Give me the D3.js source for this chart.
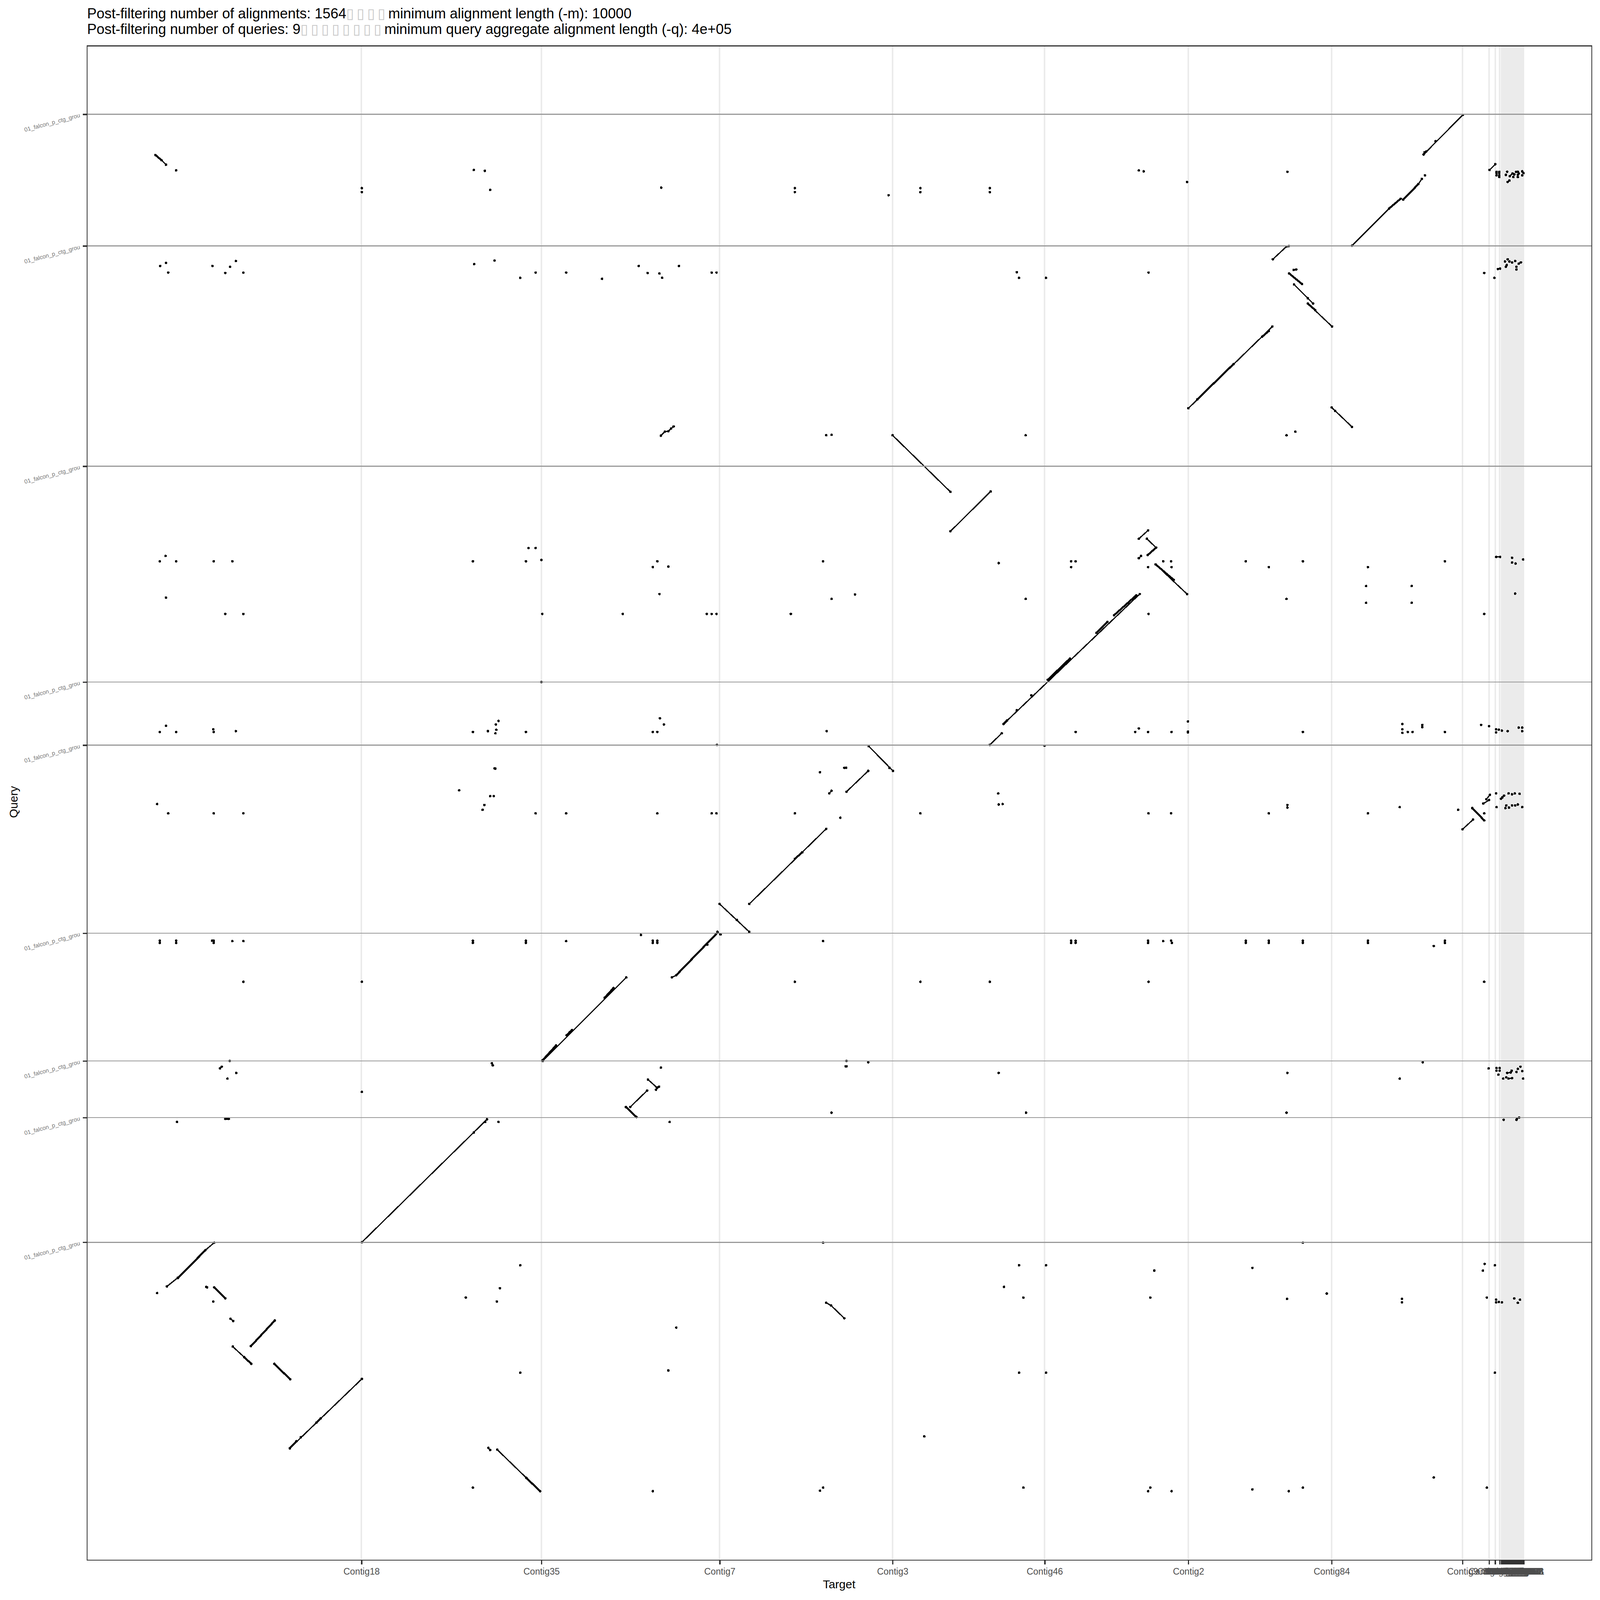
<!DOCTYPE html>
<html>
<head>
<meta charset="utf-8">
<script src="https://cdn.jsdelivr.net/npm/d3@7"></script>
<style>
html,body{margin:0;padding:0;background:#fff;width:100%;height:100%;overflow:hidden;}
svg{display:block;width:100vw;height:100vh;}
text{font-family:"Liberation Sans",Arial,sans-serif;}
</style>
</head>
<body>
<svg id="chart" viewBox="0 0 4500 4500" preserveAspectRatio="xMidYMid meet"></svg>
<script>
const targetMax = 3094;
const queryMax = 3113.5;

const titleLines = [
  ["Post-filtering number of alignments: 1564", 4, "minimum alignment length (-m): 10000"],
  ["Post-filtering number of queries: 9", 8, "minimum query aggregate alignment length (-q): 4e+05"]
];
const xTitle = "Target";
const yTitle = "Query";

const targetTickNames = ["Contig18","Contig35","Contig7","Contig3","Contig46","Contig2","Contig84","Contig9",
  "Contig160","Contig66","Contig93","Contig55","Contig72","Contig88","Contig103","Contig117",
  "Contig121","Contig125","Contig129","Contig132","Contig135","Contig138","Contig141","Contig144",
  "Contig147","Contig150","Contig153","Contig156","Contig159","Contig162","Contig165","Contig168","Contig171"];
const targetTickValues = [466,873,1276,1667,2011,2336,2660,2956,
  3016,3030,3040,3044,3047,3050,3053,3056,
  3058.5,3061,3063.5,3066,3068.5,3071,3073.5,3076,
  3078.5,3081,3083.5,3086,3088,3090,3091.5,3093,3094];

const queryTickValues = [3114,2816,2318,1830,1687,1262,973,845,563];
const queryTickLabel = "01_falcon_p_ctg_grou";

// [targetStart, queryStart, targetEnd, queryEnd]
const alignments = [
  [14,3010,24,3000],
  [1143,2387,1152,2396],[1152,2396,1160,2397],[1160,2397,1166,2403],[1166,2403,1172,2408],
  [1524,1578,1529,1584],
  [1343,1328,1517,1498],[1276,1328,1343,1265],
  [1168,1162,1178,1167],[1271,1265,1278,1259],
  [876,973,1065,1162],[467,563,750,841],
  [1074,869,1112,906],[1114,931,1134,913],[1132,908,1139,915],
  [146,956,150,960],
  [26,463,51,483],[113,545,133,562],[170,390,176,385],
  [175,327,201,303],
  [467,254,304,97],[753,98,757,93],[773,94,870,0],
  [1517,426,1528,420],[1528,420,1558,391],
  [2706,2817,2790,2901],[2856,2956,2864,2968],[2868,3023,2957,3113],
  [3017,2988,3030,3001],[3058,2961,3062,2964],[3063,2974,3069,2980],[3069,2980,3073,2978],
  [2527,2786,2558,2815],[2558,2815,2563,2816],[2574,2762,2580,2763],
  [2575,2729,2618,2686],[2606,2686,2661,2634],
  [2336,2449,2526,2634],[2660,2451,2706,2407],
  [1667,2388,1798,2260],[1798,2171,1889,2261],
  [2224,2154,2245,2173],[2242,2154,2263,2134],[2224,2110,2229,2115],
  [2262,2096,2333,2029],
  [1887,1688,1914,1714],[1918,1735,2226,2029],
  [1613,1685,1668,1629],[1563,1582,1612,1629],
  [2956,1497,2980,1519],[3003,1555,3016,1563],[3010,1565,3018,1575],[3043,1566,3050,1573],
  [3036,2764,3041,2765],[3032,2113,3041,2113],
  [3057,946,3065,947],[3060,933,3068,934]
];

// Runs where many short alignments overlap
const denseAlignments = [
  [0,3022,14,3010],
  [1178,1167,1271,1263],
  [876,975,906,1008],[1016,1116,1036,1138],[930,1031,942,1043],
  [1064,869,1088,846],[761,968,763,963],[158,842,166,842],
  [51,482,113,545],[133,461,158,436],[216,328,270,386],[201,303,217,288],[269,288,305,253],
  [304,97,319,113],[364,155,374,165],[839,30,870,0],
  [2790,2901,2816,2923],[2822,2921,2856,2956],[2868,3023,2874,3030],
  [2564,2754,2593,2730],[2606,2686,2623,2671],
  [2356,2469,2438,2549],[2503,2611,2518,2624],
  [2263,2134,2244,2117],[2978,1545,3005,1517],[2262,2096,2303,2061],
  [2018,1835,2068,1883],[2128,1941,2153,1966],[2168,1981,2218,2026],[1918,1735,1926,1743],
  [1446,1430,1463,1445]
];

// [target, query]
const shortHits = [
  [47,2987],[720,2988],[745,2986],[757,2943],[467,2947],[467,2938],[1144,2948],[1446,2947],[1446,2938],
  [11,2771],[24,2778],[29,2756],[129,2771],[158,2755],[169,2769],[182,2782],[199,2756],[721,2775],[767,2783],
  [825,2744],[860,2756],[929,2756],[1010,2742],[1093,2771],[1113,2755],[1140,2754],[1146,2744],[1184,2771],
  [1258,2756],[1269,2756],[1517,2388],[1529,2389],
  [10,2103],[23,2115],[47,2103],[24,2021],[132,2103],[174,2103],[158,1984],[199,1984],[718,2103],[844,2133],
  [860,2133],[838,2103],[873,2106],[875,1984],[1057,1984],[1125,2090],[1135,2103],[1160,2091],[1140,2029],
  [1247,1984],[1258,1984],[1269,1984],[1437,1984],[1510,2103],[1529,2018],[873,1830],
  [10,1717],[24,1731],[47,1717],[131,1723],[132,1717],[182,1719],[718,1717],[752,1719],[776,1742],[770,1734],
  [771,1722],[769,1714],[838,1717],[1125,1717],[1135,1717],[1141,1748],[1150,1734],[1518,1719],[1270,1688],
  [767,1635],[769,1634],[687,1585],[757,1572],[765,1572],[1503,1626],
  [4,1554],[29,1533],[132,1533],[199,1533],[740,1541],[744,1552],[860,1533],[929,1533],[1135,1533],[1258,1533],
  [1269,1533],[1446,1533],[1549,1523],
  [10,1245],[10,1240],[47,1245],[47,1240],[128,1245],[132,1245],[132,1240],[174,1244],[199,1244],[718,1245],
  [718,1240],[838,1245],[838,1240],[929,1244],[1098,1258],[1125,1245],[1125,1240],[1135,1245],[1135,1240],[1510,1244],
  [199,1152],[467,1152],[1446,1152],
  [1315,1292],[937,1038],[720,811],[746,835],[329,122],[319,113],[374,165],[1528,420],[1248,1236],
  [1143,958],[168,973],[183,946],[163,933],[467,903],[1529,856],[49,835],[161,842],[776,835],[1163,835],
  [4,448],[115,462],[117,461],[131,429],[825,511],[779,459],[702,438],[772,429],[1178,370],[1160,273],[825,268],
  [718,8],[1125,0],[1503,1],[1510,8],[1510,562],
  [1658,2931],[1730,2947],[1730,2938],[1887,2947],[1887,2938],[2224,2987],[2235,2985],[2333,2961],[2560,2984],
  [2871,2976],[2895,3053],[2870,3028],
  [3033,2984],[3039,2984],[3033,2981],[3039,2981],[3033,2976],[3039,2976],[3039,2972],
  [3057,2984],[3054,2977],[3071,2972],[3077,2984],[3081,2984],[3083,2980],[3081,2977],[3081,2972],[3091,2985],[3094,2981],[3091,2976],
  [1948,2757],[1953,2744],[2014,2744],[2246,2756],[1968,2388],[2558,2388],[2578,2396],[2606,2698],[2668,2443],
  [3005,2755],[3028,2744],[3052,2781],[3058,2786],[3056,2773],[3062,2781],[3068,2779],[3054,2769],[3078,2769],
  [3075,2782],[3088,2779],[3083,2776],[3078,2763],
  [1907,2099],[2071,2103],[2081,2103],[2071,2090],[1582,2028],[1968,2018],[2279,2103],[2297,2103],[2245,2090],[2298,2090],
  [2246,1984],[2466,2103],[2518,2090],[2595,2103],[2742,2090],[2916,2103],[2558,2018],[2738,2047],[2841,2047],
  [2738,2009],[2841,2009],[3005,1984],[3075,2030],[3068,2111],[3068,2100],[3076,2098],[3093,2107],
  [1948,1766],[1981,1800],
  [2081,1717],[2216,1717],[2224,1725],[2245,1717],[2298,1717],[2335,1741],[2335,1718],[2335,1716],[2595,1717],
  [2820,1735],[2820,1723],[2820,1715],[2832,1717],[2843,1717],[2865,1733],[2865,1728],[2916,1717],
  [2998,1733],[3016,1730],[3032,1723],[3032,1716],[3038,1722],[3045,1720],[3058,1719],[3083,1727],[3091,1727],[3091,1719],
  [2011,1686],[1660,1636],[1558,1636],[1562,1636],[1906,1578],
  [1730,1533],[1907,1553],[1916,1554],[2246,1533],[2297,1533],[2518,1533],[2560,1552],[2560,1546],[2742,1533],
  [2814,1547],[2946,1541],[3005,1533],[3033,1547],[3032,1578],[3046,1569],[3060,1578],[3068,1576],[3074,1578],[3085,1577],
  [3055,1551],[3053,1545],[3061,1546],[3068,1551],[3075,1551],[3091,1547],[3081,1553],
  [2071,1245],[2071,1240],[2081,1245],[2081,1240],[2245,1245],[2245,1240],[2279,1244],[2297,1245],[2299,1240],
  [2466,1245],[2466,1240],[2518,1245],[2518,1240],[2595,1245],[2595,1240],[2742,1245],[2742,1240],[2891,1233],[2916,1245],[2916,1240],
  [1730,1152],[1887,1152],[2246,1152],[3005,1152],
  [1563,973],[1561,961],[1563,961],[1612,970],[1907,946],[2560,946],[2814,933],[2866,970],
  [3015,956],[3033,957],[3040,957],[3033,951],[3040,951],[3037,942],[3048,933],[3055,936],[3067,951],[3078,948],
  [3081,955],[3087,960],[3091,950],[3093,933],
  [1969,856],[2558,856],[3049,840],[3078,840],[3079,842],[3084,845],[2595,562],
  [1953,511],[2014,511],[2259,499],[2481,505],[1919,462],[1963,438],[2250,438],[2559,435],[2649,447],[2819,435],[2819,427],
  [3006,514],[3002,499],[3029,511],[3011,438],[3032,433],[3032,427],[3038,428],[3045,427],[3073,436],[3081,426],[3086,433],
  [1953,268],[2014,268],[3029,268],[1739,124],
  [1963,8],[2245,0],[2250,8],[2298,0],[2481,4],[2563,0],[2595,8],[2891,31],[3011,8]
];

const panel = {left:245, right:4477, top:129, bottom:4388};
const x = d3.scaleLinear().domain([0,targetMax]).range([437,4285]);
const y = d3.scaleLinear().domain([0,queryMax]).range([4194,322]);

const svg = d3.select("#chart");
svg.append("rect").attr("width",4500).attr("height",4500).attr("fill","#fff");

const marks = svg.append("g").attr("shape-rendering","crispEdges");

marks.append("g").selectAll("line").data(targetTickValues).join("line")
  .attr("x1",d=>x(d)).attr("x2",d=>x(d)).attr("y1",panel.top).attr("y2",panel.bottom)
  .attr("stroke","#ebebeb").attr("stroke-width",4);

function drawRuns(data, width){
  marks.append("g").selectAll("line").data(data).join("line")
    .attr("x1",d=>x(d[0])).attr("y1",d=>y(d[1])).attr("x2",d=>x(d[2])).attr("y2",d=>y(d[3]))
    .attr("stroke","#000").attr("stroke-width",width).attr("stroke-linecap","round");
  const ends = data.flatMap(d=>[[d[0],d[1]],[d[2],d[3]]]);
  marks.append("g").selectAll("circle").data(ends).join("circle")
    .attr("cx",d=>x(d[0])).attr("cy",d=>y(d[1])).attr("r",3.5).attr("fill","#000");
}
drawRuns(alignments,3.5);
drawRuns(denseAlignments,5.5);
marks.append("g").selectAll("circle").data(shortHits).join("circle")
  .attr("cx",d=>x(d[0])).attr("cy",d=>y(d[1])).attr("r",3.5).attr("fill","#000");

// query boundaries lie over the marks
marks.append("g").selectAll("line").data(queryTickValues).join("line")
  .attr("x1",panel.left).attr("x2",panel.right).attr("y1",d=>y(d)).attr("y2",d=>y(d))
  .attr("stroke","#999").attr("stroke-width",3);

// panel border
svg.append("rect")
  .attr("x",panel.left).attr("y",panel.top)
  .attr("width",panel.right-panel.left).attr("height",panel.bottom-panel.top)
  .attr("fill","none").attr("stroke","#333").attr("stroke-width",3).attr("shape-rendering","crispEdges");

// axes
const xName = new Map(targetTickValues.map((v,i)=>[v,targetTickNames[i]]));
const xAxis = d3.axisBottom(x).tickValues(targetTickValues).tickFormat(d=>xName.get(d)).tickSize(12).tickPadding(10);
const gx = svg.append("g").attr("transform",`translate(0,${panel.bottom})`).call(xAxis);
gx.select(".domain").remove();
gx.selectAll(".tick line").attr("stroke","#333").attr("stroke-width",4).attr("shape-rendering","crispEdges");
gx.selectAll(".tick text").attr("fill","#4d4d4d").attr("font-size",25.5).attr("font-family",'"Liberation Sans",Arial,sans-serif');

const yAxis = d3.axisLeft(y).tickValues(queryTickValues).tickFormat(()=>queryTickLabel).tickSize(12).tickPadding(9);
const gy = svg.append("g").attr("transform",`translate(${panel.left},0)`).call(yAxis);
gy.select(".domain").remove();
gy.selectAll(".tick line").attr("stroke","#333").attr("stroke-width",4).attr("shape-rendering","crispEdges");
gy.selectAll(".tick text")
  .attr("fill","#777").attr("font-size",16.3).attr("font-family",'"Liberation Sans",Arial,sans-serif')
  .attr("text-anchor","end").attr("dy","0.45em")
  .attr("transform","rotate(-15 -21 0)");

// axis titles
svg.append("text").attr("x",2360).attr("y",4467).attr("text-anchor","middle")
  .attr("font-size",33).attr("fill","#000").text(xTitle);
svg.append("text").attr("transform",`translate(49,${(panel.top+panel.bottom)/2-3}) rotate(-90)`).attr("text-anchor","middle")
  .attr("font-size",33).attr("fill","#000").text(yTitle);

// title: the unprintable characters of the original appear as empty boxes
titleLines.forEach((line,i)=>{
  const t = svg.append("text").attr("x",245).attr("y",52+i*43.5).attr("font-size",40).attr("fill","#000");
  t.append("tspan").text(line[0]);
  t.append("tspan").attr("fill","#c8c8c8").attr("font-family","DejaVu Sans").attr("letter-spacing",7.5).text("\u25AF".repeat(line[1]));
  t.append("tspan").text(line[2]);
});
</script>
</body>
</html>
